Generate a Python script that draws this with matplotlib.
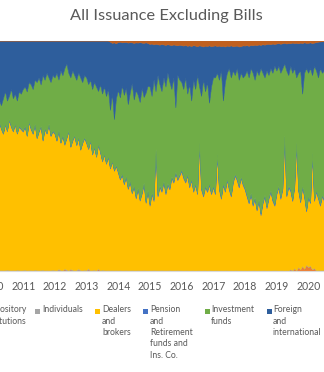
import matplotlib.pyplot as plt
from matplotlib.patches import Rectangle
import numpy as np

plt.rcParams['font.family'] = ['Lato', 'DejaVu Sans']

# share of accepted tenders, 16 auctions per year, 2010-2020
years = list(range(2010, 2022))
per_year = 16

depository = [
    0, 0, 0, 0, 0, 0, 0, 0, 0, 0, 0, 0, 0, 0, 0, 0,
    0, 0, 0, 0, 0, 0, 0, 0, 0, 0, 0, 0, 0, 0, 0, 0,
    0, 0, 0.4, 0, 0, 0.6, 0, 0, 0.5, 0, 0, 0, 0.4, 0, 0, 0,
    0, 0.5, 0, 0, 0, 0, 0.6, 0, 0, 0, 0, 0, 0, 0, 0, 0,
    0, 0, 0, 0, 0, 0, 0, 0, 0, 0, 0, 0, 0, 0, 0, 0,
    0, 0, 0, 0, 0, 0, 0, 0, 0, 0, 0, 0, 0, 0, 0, 0,
    0, 0, 0, 0, 0, 0, 0, 0, 0, 0, 0, 0, 0, 0, 0, 0,
    0, 0, 0, 0, 0, 0, 0, 0, 0, 0, 0, 0, 0, 0, 0, 0,
    0, 0, 0, 0, 0, 0, 0, 0, 0, 0, 0, 0, 0, 0, 0, 0,
    0, 0, 0, 0, 0, 0, 0, 0.5, 0, 1.0, 0, 1.5, 0.5, 2.0, 0.8, 2.5,
    1.5, 2.0, 0.5, 1.0, 0, 0, 0, 0, 0, 0, 0, 0, 0, 0, 0, 0,
]
individuals = [
    0.3, 0.2, 0.3, 0.4, 0.2, 0.3, 0.2, 0.3, 0.4, 0.3, 0.2, 0.3, 0.2, 0.4, 0.3, 0.2,
    0.3, 0.4, 0.2, 0.3, 0.3, 0.2, 0.4, 0.3, 0.2, 0.3, 0.4, 0.2, 0.3, 0.2, 0.3, 0.4,
    0.3, 0.2, 0.4, 0.3, 0.2, 0.3, 0.5, 0.2, 0.3, 0.4, 0.2, 0.3, 0.5, 0.3, 0.2, 0.4,
    0.3, 0.5, 0.2, 0.3, 0.4, 0.2, 0.3, 0.2, 0.4, 0.3, 0.2, 0.3, 0.2, 0.3, 0.2, 0.3,
    0.2, 0.3, 0.2, 0.2, 0.3, 0.2, 0.2, 0.3, 0.2, 0.2, 0.3, 0.2, 0.2, 0.3, 0.2, 0.2,
    0.2, 0.2, 0.3, 0.2, 0.2, 0.2, 0.3, 0.2, 0.2, 0.2, 0.3, 0.2, 0.2, 0.2, 0.3, 0.2,
    0.2, 0.1, 0.2, 0.2, 0.1, 0.2, 0.2, 0.1, 0.2, 0.2, 0.1, 0.2, 0.2, 0.1, 0.2, 0.2,
    0.1, 0.2, 0.2, 0.1, 0.2, 0.1, 0.2, 0.2, 0.1, 0.2, 0.1, 0.2, 0.2, 0.1, 0.2, 0.1,
    0.2, 0.1, 0.2, 0.1, 0.2, 0.2, 0.1, 0.2, 0.1, 0.2, 0.2, 0.1, 0.2, 0.1, 0.2, 0.2,
    0.2, 0.1, 0.2, 0.2, 0.1, 0.2, 0.1, 0.2, 0.2, 0.1, 0.2, 0.2, 0.1, 0.2, 0.1, 0.2,
    0.2, 0.3, 0.2, 0.3, 0.2, 0.3, 0.2, 0.3, 0.2, 0.3, 0.2, 0.3, 0.2, 0.3, 0.2, 0.3,
]
dealers = [
    61, 63, 60, 62, 64, 61, 59, 63, 60, 65, 62, 60, 63, 59, 62, 61,
    60, 62, 58, 64, 61, 59, 63, 57, 60, 62, 56, 61, 59, 63, 58, 60,
    59, 56, 60, 55, 58, 54, 57, 60, 53, 56, 58, 54, 57, 52, 55, 57,
    55, 52, 56, 50, 53, 49, 54, 51, 47, 50, 46, 49, 44, 47, 43, 45,
    42, 39, 41, 37, 40, 35, 38, 33, 36, 31, 35, 30, 33, 37, 29, 34,
    28, 33, 30, 52, 32, 36, 34, 38, 33, 37, 35, 40, 38, 42, 39, 41,
    43, 40, 38, 41, 36, 39, 34, 37, 33, 55, 35, 32, 36, 34, 37, 33,
    36, 33, 50, 35, 31, 37, 34, 39, 35, 32, 38, 41, 39, 36, 40, 37,
    35, 32, 29, 33, 28, 31, 26, 30, 24, 29, 32, 27, 31, 34, 30, 28,
    33, 36, 31, 35, 58, 32, 36, 34, 30, 35, 55, 33, 29, 34, 31, 23,
    30, 27, 50, 29, 34, 31, 28, 32, 30, 33, 29, 31, 30, 32, 28, 31,
]
pension = [
    0.4, 0.5, 0.4, 0.3, 0.5, 0.4, 0.4, 0.5, 0.3, 0.4, 0.5, 0.4, 0.3, 0.4, 0.5, 0.4,
    0.5, 0.4, 0.3, 0.4, 0.5, 0.4, 0.4, 0.3, 0.5, 0.4, 0.4, 0.5, 0.3, 0.4, 0.4, 0.5,
    0.4, 0.4, 0.5, 0.3, 0.4, 0.5, 0.4, 0.4, 0.3, 0.5, 0.4, 0.4, 0.5, 0.3, 0.4, 0.4,
    0.5, 0.4, 0.3, 0.4, 0.5, 0.4, 0.4, 0.3, 0.5, 0.4, 0.4, 0.5, 0.4, 0.3, 0.4, 0.5,
    0.6, 0.5, 0.7, 0.6, 0.5, 0.6, 0.7, 0.5, 0.6, 0.7, 0.6, 0.5, 0.6, 0.7, 0.5, 0.6,
    0.7, 0.6, 0.8, 0.7, 0.6, 0.7, 0.8, 0.6, 0.7, 0.8, 0.7, 0.6, 0.7, 0.8, 0.6, 0.7,
    0.7, 0.8, 0.6, 0.7, 0.8, 0.7, 0.6, 0.8, 0.7, 0.6, 0.7, 0.8, 0.7, 0.6, 0.8, 0.7,
    0.8, 0.7, 0.6, 0.8, 0.7, 0.8, 0.6, 0.7, 0.8, 0.7, 0.6, 0.8, 0.7, 0.8, 0.6, 0.7,
    0.7, 0.8, 0.7, 0.6, 0.8, 0.7, 0.7, 0.6, 0.8, 0.7, 0.6, 0.7, 0.8, 0.7, 0.6, 0.8,
    0.6, 0.7, 0.8, 0.6, 0.7, 0.6, 0.8, 0.7, 0.6, 0.7, 0.8, 0.6, 0.7, 0.6, 0.8, 0.7,
    0.7, 0.6, 0.8, 0.7, 0.6, 0.7, 0.8, 0.6, 0.7, 0.6, 0.8, 0.7, 0.6, 0.7, 0.6, 0.8,
]
investment = [
    14, 14, 14, 14, 9, 10, 15, 14, 13, 10, 16, 14, 13, 14, 15, 15,
    18, 17, 19, 17, 19, 19, 19, 24, 23, 18, 28, 21, 26, 20, 23, 24,
    24, 29, 22, 31, 26, 33, 32, 25, 30, 30, 26, 28, 28, 31, 26, 27,
    28, 28, 26, 28, 28, 30, 23, 29, 29, 29, 29, 29, 25, 29, 22, 29,
    35, 35, 38, 38, 38, 36, 38, 47, 37, 46, 40, 42, 45, 37, 47, 45,
    51, 42, 52, 25, 52, 44, 43, 45, 46, 48, 46, 38, 45, 28, 45, 41,
    38, 38, 45, 35, 44, 34, 48, 41, 51, 24, 40, 50, 41, 47, 35, 46,
    47, 50, 35, 47, 55, 36, 47, 46, 52, 51, 48, 43, 48, 46, 45, 46,
    49, 54, 54, 54, 57, 51, 60, 54, 63, 56, 51, 59, 53, 53, 55, 60,
    53, 52, 54, 52, 31, 54, 48, 53.5, 55, 51, 28, 50.5, 56.5, 40, 53.2, 61.5,
    53.5, 58, 33.5, 58, 52, 52, 59, 53, 56, 51, 58, 54, 56, 52, 59, 54,
]
foreign = [
    24, 22, 25, 23, 26, 28, 25, 22, 26, 24, 21, 25, 23, 26, 22, 23,
    21, 20, 22, 18, 19, 21, 17, 18, 16, 19, 15, 17, 14, 16, 18, 15,
    16, 14, 17, 13, 15, 12, 10, 14, 16, 13, 15, 17, 14, 16, 18, 15,
    16, 19, 17, 21, 18, 20, 22, 19, 23, 20, 24, 21, 29.5, 22, 33.2, 23.8,
    20.8, 24, 18.6, 22.7, 19.9, 26.5, 21.8, 17.6, 24.4, 20.7, 22.5, 25.8, 19.6, 23.4, 21.7, 18.5,
    18.5, 22.7, 15.3, 20.6, 13.4, 17.2, 20.5, 14.3, 18.1, 12.4, 16.2, 19, 14.3, 27.1, 12.9, 15.2,
    16, 18.8, 14.1, 20.7, 16.9, 23.6, 15, 18.8, 12.5, 17.9, 21.7, 14.4, 19.8, 15.6, 24.9, 17.5,
    13.7, 13.9, 11.6, 14.8, 10.5, 23.7, 15.4, 11.8, 9.6, 13.9, 10.5, 12.7, 9.8, 14.4, 11.6, 13.9,
    12.8, 11, 13.7, 10.1, 11.9, 15.2, 11, 13.3, 10.1, 12.4, 14.2, 11.5, 13.6, 10.4, 12.7, 9.5,
    11.7, 9.9, 12.6, 10.8, 9, 11.7, 13.9, 9.8, 13.1, 10.9, 15, 12.8, 12.1, 21.9, 13.2, 11,
    13, 11.2, 13.9, 10.1, 12.3, 15.5, 11.6, 13.7, 12.7, 14.8, 11.7, 13.8, 12.7, 14.8, 11.7, 13.8,
]
other = [
    0, 0, 0, 0, 0, 0, 0, 0, 0, 0, 0, 0, 0, 0, 0, 0,
    0, 0, 0, 0, 0, 0, 0, 0, 0, 0, 0, 0, 0, 0, 0, 0,
    0, 0, 0, 0, 0, 0, 0, 0, 0, 0, 0, 0, 0, 0, 0, 0,
    0, 0, 0, 0, 0, 0, 0, 0, 0, 0, 0, 0, 0.5, 1.0, 0.8, 1.2,
    0.6, 0.5, 0.8, 0.7, 0.6, 0.9, 0.7, 0.8, 1.0, 0.8, 0.9, 0.7, 0.9, 1.0, 0.8, 1.0,
    1.5, 1.3, 1.7, 1.4, 1.6, 1.8, 1.5, 1.7, 1.9, 1.6, 1.8, 2.0, 1.7, 1.9, 2.1, 1.8,
    2.0, 2.2, 1.9, 2.3, 2.1, 2.4, 2.0, 2.2, 2.5, 2.1, 2.3, 2.6, 2.2, 2.4, 2.1, 2.5,
    2.3, 2.1, 2.4, 2.2, 2.5, 2.3, 2.6, 2.2, 2.4, 2.1, 2.5, 2.3, 2.2, 2.6, 2.4, 2.1,
    2.2, 2.0, 2.3, 1.9, 2.1, 1.8, 2.0, 1.7, 1.9, 1.6, 1.8, 1.5, 1.4, 1.6, 1.3, 1.5,
    1.3, 1.1, 1.4, 1.2, 1.0, 1.3, 1.1, 1.2, 0.9, 1.1, 1.0, 1.2, 0.9, 1.1, 0.8, 1.0,
    1.0, 0.8, 1.1, 0.9, 0.7, 0.5, 0.4, 0.3, 0.3, 0.2, 0.3, 0.2, 0.3, 0.2, 0.3, 0.2,
]

labels = ["Depository\ninstitutions", "Individuals", "Dealers\nand\nbrokers",
          "Pension\nand\nRetirement\nfunds and\nIns. Co.", "Investment\nfunds",
          "Foreign\nand\ninternational", "Other"]
colors = ['#ED7D31', '#A5A5A5', '#FFC000', '#4472C4', '#70AD47', '#2E5E9C', '#C0601F']

series = np.array([depository, individuals, dealers, pension, investment, foreign, other], dtype=float)
shares = series / series.sum(axis=0) * 100
t = years[0] + np.arange(series.shape[1]) / per_year

W, H = 324, 372
fig = plt.figure(figsize=(W / 100, H / 100), dpi=100)
fig.patch.set_facecolor('white')

# plot area is wider than the crop, like the original
ax = fig.add_axes([-8.4 / W, (H - 271) / H, 348.7 / W, 230 / H])
polys = ax.stackplot(t, shares, colors=colors, linewidth=0.4)
for p, c in zip(polys, colors):
    p.set_edgecolor(c)

ax.set_xlim(2010, 2021)
ax.set_ylim(0, 100)
ax.set_yticks([])
ax.set_xticks(years)
ax.set_xticklabels([str(y) for y in years])
ax.tick_params(axis='x', length=0, pad=7, labelsize=7.6, labelcolor='#595959')
for s in ['top', 'left', 'right']:
    ax.spines[s].set_visible(False)
ax.spines['bottom'].set_color('#D9D9D9')
ax.spines['bottom'].set_linewidth(0.8)

fig.text(166 / W, 1 - 16 / H, 'All Issuance Excluding Bills', ha='center', va='center',
         fontsize=11.8, color='#595959')

# legend under the plot, text wrapped like Excel does
marker_x = [-23, 35, 95, 143, 205, 267, 330]
text_x = [-16, 42, 102, 150, 211, 273, 337]
row_y = 311
for lab, c, mx, tx in zip(labels, colors, marker_x, text_x):
    fig.patches.append(Rectangle((mx / W, 1 - (row_y + 2.5) / H), 5 / W, 5 / H,
                                 transform=fig.transFigure, facecolor=c, edgecolor='none'))
    fig.text(tx / W, 1 - (row_y - 5.5) / H, lab, ha='left', va='top', fontsize=6.2,
             color='#595959', linespacing=1.33)

fig.savefig('out.png', dpi=100)
